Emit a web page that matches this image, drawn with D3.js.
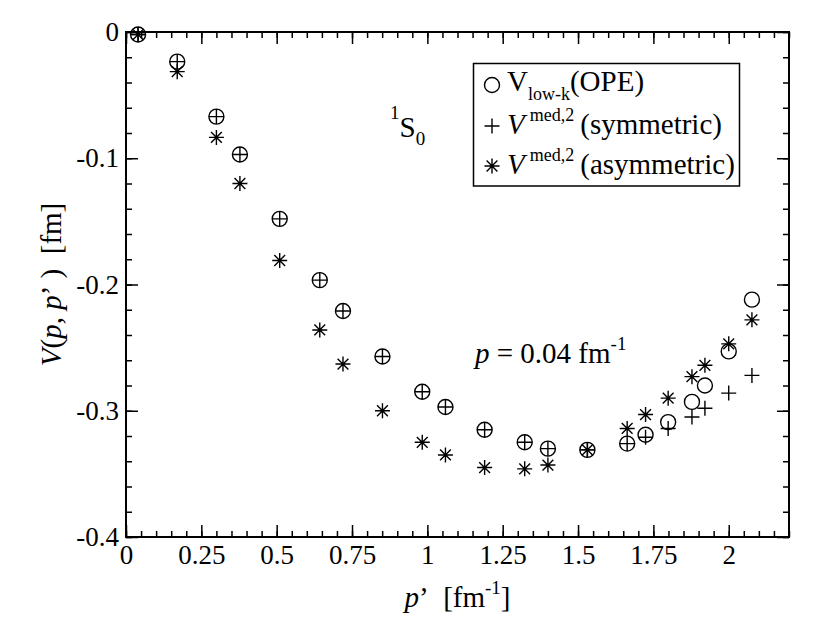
<!DOCTYPE html>
<html><head><meta charset="utf-8">
<script src="https://cdn.jsdelivr.net/npm/d3@7"></script>
<style>
body{margin:0;background:#fff;}
svg text{font-family:"Times New Roman","Liberation Serif","DejaVu Serif","Noto Serif",Times,serif !important;fill:#000;}
</style></head>
<body>
<svg id="c" width="817" height="632"></svg>
<script>
// ---- data ----
const pPrime = [0.04, 0.17, 0.30, 0.378, 0.51, 0.643, 0.72, 0.851, 0.983, 1.06, 1.19, 1.323, 1.40, 1.531, 1.663, 1.724, 1.799, 1.878, 1.921, 2.0, 2.077];
const vLowK  = [-0.002, -0.0235, -0.067, -0.097, -0.148, -0.1965, -0.221, -0.257, -0.285, -0.297, -0.315, -0.325, -0.330, -0.331, -0.326, -0.319, -0.309, -0.293, -0.280, -0.253, -0.212];
const vSym   = [-0.002, -0.0235, -0.067, -0.097, -0.148, -0.1965, -0.221, -0.257, -0.285, -0.297, -0.315, -0.325, -0.330, -0.331, -0.326, -0.321, -0.314, -0.305, -0.298, -0.286, -0.272];
const vAsym  = [-0.002, -0.0314, -0.0835, -0.120, -0.181, -0.236, -0.263, -0.300, -0.325, -0.335, -0.345, -0.346, -0.343, -0.331, -0.314, -0.303, -0.290, -0.273, -0.264, -0.247, -0.228];
const xTicks = [0, 0.25, 0.5, 0.75, 1, 1.25, 1.5, 1.75, 2];
const xTickLabels = ["0", "0.25", "0.5", "0.75", "1", "1.25", "1.5", "1.75", "2"];
const yTicks = [0, -0.1, -0.2, -0.3, -0.4];
const yTickLabels = ["0", "-0.1", "-0.2", "-0.3", "-0.4"];

// ---- layout ----
const L = 126, R = 789, T = 32, B = 537;
const FONT = "'Times New Roman','Liberation Serif','DejaVu Serif',serif";
const svg = d3.select("#c");
const x = d3.scaleLinear().domain([0, 2.2]).range([L, R]);
const y = d3.scaleLinear().domain([-0.4, 0]).range([B, T]);
const FS = 29, TFS = 27;

const xMinor = d3.range(0, 2.2001, 0.05).map(v => +v.toFixed(2));
const yMinor = d3.range(-0.4, 0.0001, 0.02).map(v => +v.toFixed(2));

function styleAxis(g) {
  g.attr("font-family", FONT).attr("font-size", TFS);
  g.select(".domain").remove();
  g.selectAll("line").attr("stroke", "#000").attr("stroke-width", 1.5);
  g.selectAll("text").style("font-size", TFS + "px").style("font-family", FONT);
}
// bottom
svg.append("g").attr("transform", `translate(0,${B})`)
  .call(d3.axisBottom(x).tickValues(xMinor).tickSize(-6).tickFormat("")).call(styleAxis);
svg.append("g").attr("transform", `translate(0,${B})`)
  .call(d3.axisBottom(x).tickValues(xTicks).tickSize(-12).tickPadding(8)
    .tickFormat((d, i) => xTickLabels[i])).call(styleAxis);
// top
svg.append("g").attr("transform", `translate(0,${T})`)
  .call(d3.axisTop(x).tickValues(xMinor).tickSize(-6).tickFormat("")).call(styleAxis);
svg.append("g").attr("transform", `translate(0,${T})`)
  .call(d3.axisTop(x).tickValues(xTicks).tickSize(-12).tickFormat("")).call(styleAxis);
// left
svg.append("g").attr("transform", `translate(${L},0)`)
  .call(d3.axisLeft(y).tickValues(yMinor).tickSize(-6).tickFormat("")).call(styleAxis);
svg.append("g").attr("transform", `translate(${L},0)`)
  .call(d3.axisLeft(y).tickValues(yTicks).tickSize(-12).tickPadding(7)
    .tickFormat((d, i) => yTickLabels[i])).call(styleAxis);
// right
svg.append("g").attr("transform", `translate(${R},0)`)
  .call(d3.axisRight(y).tickValues(yMinor).tickSize(-6).tickFormat("")).call(styleAxis);
svg.append("g").attr("transform", `translate(${R},0)`)
  .call(d3.axisRight(y).tickValues(yTicks).tickSize(-12).tickFormat("")).call(styleAxis);

svg.append("rect").attr("x", L).attr("y", T).attr("width", R - L).attr("height", B - T)
  .attr("fill", "none").attr("stroke", "#000").attr("stroke-width", 2);

// ---- symbols ----
const S = 7.5;
function circleSym(g, cx, cy) {
  g.append("circle").attr("cx", cx).attr("cy", cy).attr("r", S)
    .attr("fill", "none").attr("stroke", "#000").attr("stroke-width", 1.4);
}
function plusSym(g, cx, cy) {
  g.append("path").attr("d", `M${cx - S},${cy}H${cx + S}M${cx},${cy - S}V${cy + S}`)
    .attr("stroke", "#000").attr("stroke-width", 1.4).attr("fill", "none");
}
function starSym(g, cx, cy) {
  const d = S * 0.72;
  g.append("path").attr("d",
    `M${cx - S},${cy}H${cx + S}M${cx},${cy - S}V${cy + S}` +
    `M${cx - d},${cy - d}L${cx + d},${cy + d}M${cx - d},${cy + d}L${cx + d},${cy - d}`)
    .attr("stroke", "#000").attr("stroke-width", 1.4).attr("fill", "none");
}
const gPts = svg.append("g");
pPrime.forEach((p, i) => circleSym(gPts, x(p), y(vLowK[i])));
pPrime.forEach((p, i) => plusSym(gPts, x(p), y(vSym[i])));
pPrime.forEach((p, i) => starSym(gPts, x(p), y(vAsym[i])));

// ---- legend ----
svg.append("rect").attr("x", 473.5).attr("y", 63.5).attr("width", 266).attr("height", 122.5)
  .attr("fill", "#fff").attr("stroke", "#000").attr("stroke-width", 1.5);
circleSym(svg, 492, 85);
plusSym(svg, 492, 126);
starSym(svg, 492, 166);
const leg1 = svg.append("text").attr("x", 507).attr("y", 91).style("font-size", FS + "px");
leg1.append("tspan").text("V");
leg1.append("tspan").attr("dy", 9).style("font-size", "18px").text("low-k");
leg1.append("tspan").attr("dy", -9).text("(OPE)");
const leg2 = svg.append("text").attr("x", 507).attr("y", 134).style("font-size", FS + "px");
leg2.append("tspan").style("font-style", "italic").text("V");
leg2.append("tspan").attr("dx", 5).attr("dy", -13).style("font-size", "18px").text("med,2");
leg2.append("tspan").attr("dx", 6).attr("dy", 13).text("(symmetric)");
const leg3 = svg.append("text").attr("x", 507).attr("y", 174).style("font-size", FS + "px");
leg3.append("tspan").style("font-style", "italic").text("V");
leg3.append("tspan").attr("dx", 5).attr("dy", -13).style("font-size", "18px").text("med,2");
leg3.append("tspan").attr("dx", 6).attr("dy", 13).text("(asymmetric)");

// ---- annotations ----
const ann1 = svg.append("text").attr("x", 390).attr("y", 119).style("font-size", "19px");
ann1.append("tspan").text("1");
ann1.append("tspan").attr("dy", 18).style("font-size", FS + "px").text("S");
ann1.append("tspan").attr("dy", 8).style("font-size", "19px").text("0");

const ann2 = svg.append("text").attr("x", 475).attr("y", 363).style("font-size", FS + "px");
ann2.append("tspan").style("font-style", "italic").text("p");
ann2.append("tspan").text(" = 0.04 fm");
ann2.append("tspan").attr("dy", -13).style("font-size", "19px").text("-1");

// ---- axis titles ----
const xt = svg.append("text").attr("x", (L + R) / 2).attr("y", 607).attr("text-anchor", "middle")
  .style("font-size", FS + "px");
xt.append("tspan").style("font-style", "italic").text("p");
xt.append("tspan").text("’\u00A0\u00A0[fm");
xt.append("tspan").attr("dy", -13).style("font-size", "19px").text("-1");
xt.append("tspan").attr("dy", 13).text("]");

const yt = svg.append("text").attr("transform", `translate(61,${(T + B) / 2}) rotate(-90)`)
  .attr("text-anchor", "middle").style("font-size", FS + "px");
yt.append("tspan").style("font-style", "italic").text("V");
yt.append("tspan").text("(");
yt.append("tspan").style("font-style", "italic").text("p");
yt.append("tspan").text(", ");
yt.append("tspan").style("font-style", "italic").text("p");
yt.append("tspan").text("’\u00A0)\u00A0\u00A0[fm]");
</script>
</body></html>
